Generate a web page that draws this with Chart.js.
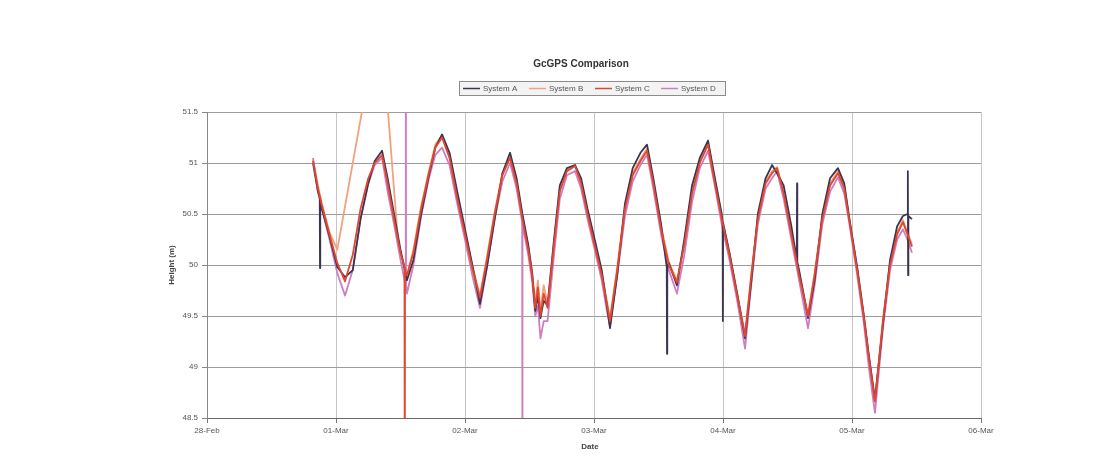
<!DOCTYPE html>
<html>
<head>
<meta charset="utf-8">
<title>GcGPS Comparison</title>
<script src="https://cdn.jsdelivr.net/npm/chart.js@4.4.1/dist/chart.umd.min.js"></script>
<style>
  html, body { margin: 0; padding: 0; background: #fff; }
  #wrap { width: 1118px; height: 467px; position: relative; }
</style>
</head>
<body>
<div id="wrap"><canvas id="gpsChart" width="1118" height="467"></canvas></div>
<script>
// --- data (days since 28-Feb 00:00, heights in m) ---
const dayLabels = ['28-Feb', '01-Mar', '02-Mar', '03-Mar', '04-Mar', '05-Mar', '06-Mar'];
const seriesNames = ['System A', 'System B', 'System C', 'System D'];

const days = [
    0.822, 0.86, 0.891, 0.95, 1.01, 1.07,
    1.13, 1.19, 1.25, 1.30, 1.357,
    1.40, 1.45, 1.50, 1.55,
    1.60, 1.66, 1.72, 1.77, 1.822,
    1.88, 1.94, 2.00, 2.06, 2.116,
    2.17, 2.23, 2.29, 2.349,
    2.40, 2.445, 2.49, 2.52, 2.545, 2.565, 2.585, 2.61, 2.64, 2.69, 2.735, 2.79, 2.853,
    2.90, 2.95, 3.00, 3.06, 3.10, 3.124,
    3.18, 3.24, 3.30, 3.36, 3.411,
    3.46, 3.52, 3.58, 3.643,
    3.70, 3.76, 3.82, 3.884,
    3.93, 3.99, 4.05, 4.11, 4.171,
    4.22, 4.27, 4.33, 4.38, 4.419,
    4.47, 4.53, 4.59, 4.659,
    4.71, 4.77, 4.83, 4.891,
    4.94, 4.98, 5.04, 5.09, 5.13, 5.178,
    5.24, 5.295, 5.35, 5.395, 5.43, 5.465
];

const heightA = [
    51.00, 50.72, 50.55, 50.28, 49.98, 49.88,
    49.95, 50.45, 50.80, 51.02, 51.12,
    50.85, 50.50, 50.15, 49.85,
    50.05, 50.50, 50.88, 51.15, 51.28,
    51.10, 50.72, 50.35, 49.98, 49.62,
    49.98, 50.45, 50.90, 51.10,
    50.85, 50.50, 50.20, 49.92, 49.55, 49.70, 49.48, 49.65, 49.60, 50.25, 50.78, 50.95, 50.98,
    50.85, 50.55, 50.28, 49.95, 49.60, 49.38,
    49.90, 50.60, 50.95, 51.10, 51.18,
    50.85, 50.40, 50.02, 49.80,
    50.25, 50.78, 51.05, 51.22,
    50.90, 50.50, 50.12, 49.72, 49.28,
    49.85, 50.50, 50.85, 50.98, 50.90,
    50.78, 50.38, 49.95, 49.48,
    49.85, 50.50, 50.85, 50.95,
    50.80, 50.45, 49.98, 49.52, 49.12, 48.68,
    49.42, 50.05, 50.38, 50.48, 50.50, 50.45
];

// System B drops out around 01-Mar (its jump is in jumpB)
const heightB = [
    51.03, 50.78, 50.60, 50.32, 50.15, null,
    null, null, null, null, null,
    null, null, 50.12, 49.90,
    50.15, 50.58, 50.92, 51.18, 51.27,
    51.08, 50.68, 50.32, 49.98, 49.70,
    50.08, 50.52, 50.90, 51.06,
    50.82, 50.48, 50.18, 49.95, 49.62, 49.85, 49.55, 49.80, 49.62, 50.22, 50.75, 50.93, 50.98,
    50.82, 50.52, 50.25, 49.92, 49.65, 49.48,
    49.98, 50.58, 50.90, 51.04, 51.14,
    50.82, 50.38, 50.03, 49.85,
    50.22, 50.72, 51.02, 51.20,
    50.88, 50.47, 50.12, 49.72, 49.33,
    49.92, 50.47, 50.82, 50.92, 50.96,
    50.72, 50.32, 49.92, 49.52,
    49.92, 50.47, 50.80, 50.92,
    50.77, 50.45, 49.97, 49.52, 49.12, 48.68,
    49.47, 50.02, 50.32, 50.44, 50.32, 50.20
];

const heightC = [
    51.02, 50.75, 50.58, 50.30, 50.02, 49.84,
    50.10, 50.55, 50.85, 51.00, 51.08,
    50.80, 50.45, 50.12, 49.90,
    50.12, 50.55, 50.90, 51.15, 51.25,
    51.05, 50.65, 50.30, 49.95, 49.68,
    50.05, 50.50, 50.88, 51.05,
    50.80, 50.45, 50.15, 49.90, 49.58, 49.78, 49.50, 49.72, 49.58, 50.20, 50.72, 50.92, 50.97,
    50.80, 50.50, 50.22, 49.90, 49.62, 49.45,
    49.95, 50.55, 50.88, 51.02, 51.12,
    50.80, 50.35, 50.00, 49.83,
    50.20, 50.70, 51.00, 51.18,
    50.85, 50.45, 50.10, 49.70, 49.30,
    49.90, 50.45, 50.80, 50.90, 50.95,
    50.70, 50.30, 49.90, 49.50,
    49.90, 50.45, 50.78, 50.90,
    50.75, 50.43, 49.95, 49.50, 49.10, 48.66,
    49.45, 50.00, 50.30, 50.42, 50.30, 50.18
];

const heightD = [
    51.05, 50.72, 50.55, 50.25, 49.92, 49.70,
    49.95, 50.45, 50.80, 50.98, 51.05,
    50.72, 50.40, 50.05, 49.72,
    50.00, 50.48, 50.85, 51.08, 51.15,
    50.98, 50.60, 50.25, 49.88, 49.58,
    49.98, 50.45, 50.82, 51.00,
    50.75, 50.40, 50.10, 49.85, 49.50, 49.60, 49.28, 49.45, 49.45, 50.10, 50.65, 50.88, 50.92,
    50.75, 50.45, 50.18, 49.85, 49.55, 49.40,
    49.90, 50.48, 50.82, 50.98, 51.08,
    50.75, 50.30, 49.95, 49.72,
    50.10, 50.62, 50.95, 51.12,
    50.82, 50.40, 50.05, 49.65, 49.18,
    49.82, 50.40, 50.75, 50.85, 50.92,
    50.65, 50.25, 49.85, 49.38,
    49.80, 50.40, 50.72, 50.86,
    50.70, 50.40, 49.90, 49.45, 49.00, 48.55,
    49.38, 49.95, 50.25, 50.35, 50.25, 50.12
];

// single bad samples / outliers [day, height]
const spikesA = [
    [0.874, 50.66], [0.876, 49.97], [0.878, 50.64],
    [3.564, 49.98], [3.566, 49.13], [3.568, 49.97],
    [3.997, 50.42], [3.999, 49.45], [4.001, 50.41],
    [4.572, 50.05], [4.574, 50.80], [4.576, 50.03],
    [5.432, 50.50], [5.434, 50.92], [5.435, 49.90], [5.437, 50.48]
];
const jumpB = [[1.342, 52.5], [1.48, 50.25]];
const spikesC = [[1.531, 49.98], [1.533, 47.5], [1.535, 49.95]];
const spikesD = [
    [1.539, 49.80], [1.541, 53.5], [1.543, 49.78],
    [2.443, 50.42], [2.445, 47.5], [2.447, 50.40]
];

const lineColors = ['#3b3552', '#f2a27a', '#e2462e', '#cc7fc0'];

function toPoints(values, extra) {
    const pts = [];
    days.forEach((d, i) => {
        if (values[i] !== null) pts.push({ x: d, y: values[i] });
    });
    extra.forEach(p => pts.push({ x: p[0], y: p[1] }));
    return pts.sort((a, b) => a.x - b.x);
}

const FONT = '"Liberation Sans", Arial, sans-serif';

// title, legend box and axis titles drawn at fixed spots like the Excel original
const decor = {
    id: 'decor',
    afterDraw(chart) {
        const c = chart.ctx;
        c.save();
        c.textBaseline = 'middle';

        c.font = 'bold 10px ' + FONT;
        c.fillStyle = '#333';
        c.textAlign = 'center';
        c.fillText('GcGPS Comparison', 581, 64);

        // legend
        c.fillStyle = '#f3f3f3';
        c.fillRect(459, 81, 267, 15);
        c.strokeStyle = '#8c8c8c';
        c.lineWidth = 1;
        c.strokeRect(459.5, 81.5, 266, 14);
        c.font = '8px ' + FONT;
        c.textAlign = 'left';
        let x = 463;
        chart.data.datasets.forEach(ds => {
            c.strokeStyle = ds.borderColor;
            c.lineWidth = 1.5;
            c.beginPath();
            c.moveTo(x, 88.5);
            c.lineTo(x + 17, 88.5);
            c.stroke();
            c.fillStyle = '#555';
            c.fillText(ds.label, x + 20, 89);
            x += 66;
        });

        // axis titles
        c.font = 'bold 8px ' + FONT;
        c.fillStyle = '#444';
        c.textAlign = 'center';
        c.fillText('Date', 590, 447);
        c.translate(172, 265);
        c.rotate(-Math.PI / 2);
        c.fillText('Height (m)', 0, 0);
        c.restore();
    }
};

const ctx = document.getElementById('gpsChart').getContext('2d');
new Chart(ctx, {
    type: 'line',
    data: {
        datasets: [
            { label: seriesNames[0], data: toPoints(heightA, spikesA), borderColor: lineColors[0], order: 1 },
            { label: seriesNames[1], data: toPoints(heightB, jumpB), borderColor: lineColors[1], order: 3 },
            { label: seriesNames[2], data: toPoints(heightC, spikesC), borderColor: lineColors[2], order: 0 },
            { label: seriesNames[3], data: toPoints(heightD, spikesD), borderColor: lineColors[3], order: 2 }
        ].map(ds => Object.assign(ds, {
            backgroundColor: ds.borderColor,
            borderWidth: 1.8,
            pointRadius: 0,
            tension: 0,
            borderJoinStyle: 'round',
            fill: false
        }))
    },
    options: {
        responsive: false,
        animation: false,
        layout: { padding: { left: 147, right: 137, top: 112, bottom: 0 } },
        plugins: {
            legend: { display: false },
            title: { display: false },
            tooltip: { enabled: false }
        },
        scales: {
            x: {
                type: 'linear',
                min: 0,
                max: 6,
                afterFit: s => { s.height = 49; },
                ticks: {
                    stepSize: 1,
                    padding: 3,
                    color: '#555',
                    font: { family: FONT, size: 8 },
                    callback: v => dayLabels[v]
                },
                grid: { color: '#c6c6c6', tickLength: 5, tickColor: '#777' },
                border: { color: '#6a6a6a' }
            },
            y: {
                min: 48.5,
                max: 51.5,
                afterFit: s => { s.width = 60; },
                ticks: {
                    stepSize: 0.5,
                    padding: 4,
                    color: '#555',
                    font: { family: FONT, size: 8 },
                    callback: v => String(Number(v.toFixed(1)))
                },
                grid: { color: '#9c9c9c', tickLength: 5, tickColor: '#888' },
                border: { color: '#888' }
            }
        }
    },
    plugins: [decor]
});
</script>
</body>
</html>
